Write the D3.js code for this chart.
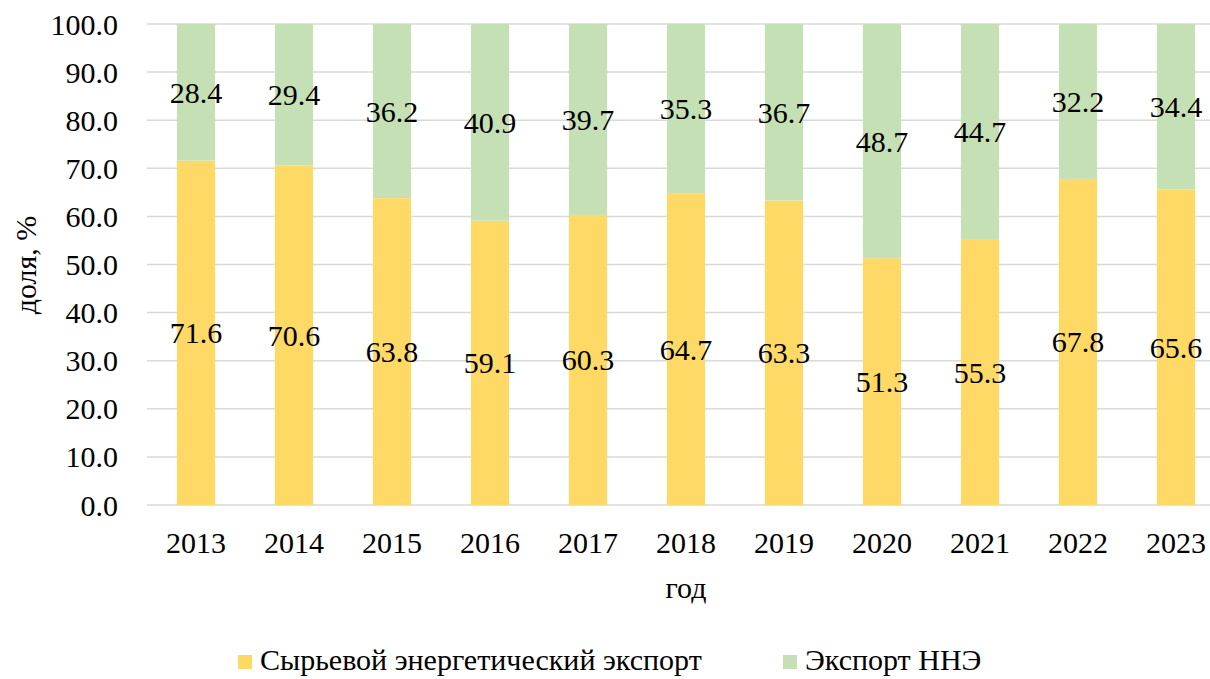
<!DOCTYPE html>
<html><head><meta charset="utf-8">
<script src="https://cdn.jsdelivr.net/npm/d3@7"></script>
<style>body{margin:0;background:#fff}svg{display:block}</style>
</head><body><svg id="c" width="1210" height="679"></svg>
<script>
const years = ["2013","2014","2015","2016","2017","2018","2019","2020","2021","2022","2023"];
const rawEnergy = [71.6,70.6,63.8,59.1,60.3,64.7,63.3,51.3,55.3,67.8,65.6];
const nneExport = [28.4,29.4,36.2,40.9,39.7,35.3,36.7,48.7,44.7,32.2,34.4];
const yTicks = [0,10,20,30,40,50,60,70,80,90,100];
const seriesNames = ["Сырьевой энергетический экспорт","Экспорт ННЭ"];
const colors = ["#FFD966","#C5E0B4"];

const svg = d3.select("#c");
const ff = "'Liberation Serif', 'Times New Roman', 'DejaVu Serif', serif";
// calibrate font size so "100.0" is ~68px wide as in reference
const probe = svg.append("text").attr("font-family",ff).attr("font-size",30).text("2013");
const w = probe.node().getComputedTextLength();
probe.remove();
const fs = Math.min(30, 30 * 62 / w);

const x = d3.scaleBand().domain(years).range([147,1225]).paddingInner(0.61).paddingOuter(0.305);
const y = d3.scaleLinear().domain([0,100]).range([505,24]);

svg.append("g").selectAll("line").data(yTicks).join("line")
  .attr("x1",147).attr("x2",1210).attr("y1",d=>y(d)).attr("y2",d=>y(d))
  .attr("stroke","#d9d9d9").attr("stroke-width",1.5);

svg.append("g").selectAll("text").data(yTicks).join("text")
  .attr("x",118).attr("y",d=>y(d)).attr("dy","0.35em").attr("text-anchor","end")
  .attr("font-family",ff).attr("font-size",fs).attr("fill","#000").text(d=>d.toFixed(1));

const g = svg.append("g");
years.forEach((yr,i)=>{
  const a = rawEnergy[i], b = nneExport[i];
  g.append("rect").attr("x",x(yr)).attr("width",x.bandwidth())
    .attr("y",y(a)).attr("height",y(0)-y(a)).attr("fill",colors[0]);
  g.append("rect").attr("x",x(yr)).attr("width",x.bandwidth())
    .attr("y",y(a+b)).attr("height",y(a)-y(a+b)).attr("fill",colors[1]);
  g.append("text").attr("x",x(yr)+x.bandwidth()/2).attr("y",y(a/2)).attr("dy","0.35em")
    .attr("text-anchor","middle").attr("font-family",ff).attr("font-size",fs).text(a.toFixed(1));
  g.append("text").attr("x",x(yr)+x.bandwidth()/2).attr("y",y(a+b/2)).attr("dy","0.35em")
    .attr("text-anchor","middle").attr("font-family",ff).attr("font-size",fs).text(b.toFixed(1));
});

svg.append("g").selectAll("text").data(years).join("text")
  .attr("x",d=>x(d)+x.bandwidth()/2).attr("y",553).attr("text-anchor","middle")
  .attr("font-family",ff).attr("font-size",fs).text(d=>d);

svg.append("text").attr("x",686).attr("y",598).attr("text-anchor","middle").attr("font-family",ff).attr("font-size",fs).text("год");
svg.append("text").attr("transform","translate(36,265) rotate(-90)").attr("text-anchor","middle")
  .attr("font-family",ff).attr("font-size",fs).text("доля, %");

const leg = [{x:238,tx:260},{x:783,tx:805}];
seriesNames.forEach((n,i)=>{
  svg.append("rect").attr("x",leg[i].x).attr("y",655).attr("width",14).attr("height",14).attr("fill",colors[i]);
  svg.append("text").attr("x",leg[i].tx).attr("y",670).attr("font-family",ff).attr("font-size",fs).text(n);
});
</script></body></html>
